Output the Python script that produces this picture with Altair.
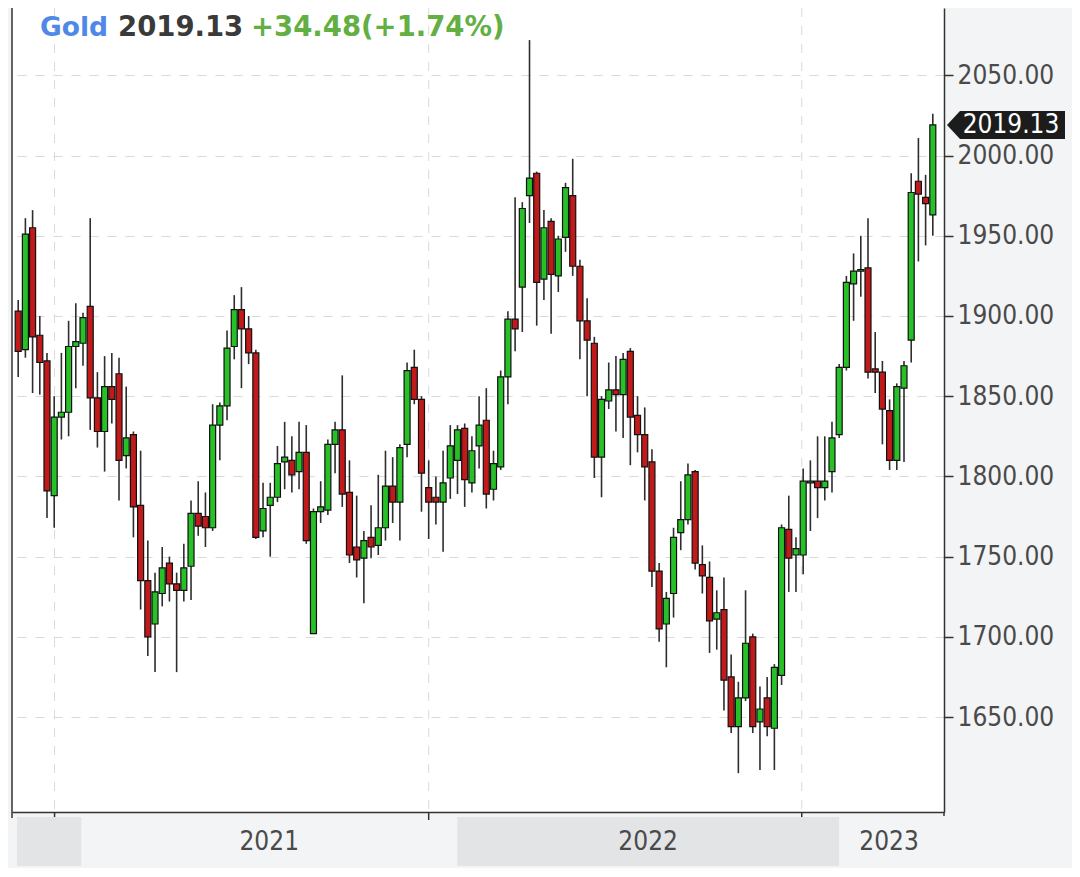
import altair as alt
import pandas as pd

# ---- weekly OHLC (index 0 = first, partially clipped candle) ----
opens = [1903, 1879, 1955, 1888, 1872, 1788, 1837, 1840, 1881, 1883,
         1906, 1849, 1828, 1856, 1864, 1813, 1826, 1782, 1735, 1708,
         1727, 1746, 1733, 1729, 1744, 1777, 1775, 1768, 1832, 1844,
         1881, 1904, 1892, 1877, 1766, 1782, 1787, 1809, 1810, 1803,
         1815, 1702, 1778, 1779, 1820, 1829, 1790, 1756, 1749, 1762,
         1757, 1768, 1794, 1784, 1820, 1868, 1848, 1793, 1787, 1784,
         1799, 1810, 1830, 1796, 1819, 1835, 1792, 1806, 1862, 1898,
         1918, 1975, 1989, 1923, 1959, 1925, 1949, 1975, 1931, 1897,
         1883, 1812, 1847, 1854, 1851, 1878, 1838, 1826, 1809, 1741,
         1708, 1727, 1765, 1773, 1803, 1745, 1737, 1711, 1717, 1675,
         1644, 1662, 1700, 1647, 1662, 1643, 1676, 1767, 1751, 1751,
         1796, 1797, 1793, 1803, 1826, 1868, 1920, 1928, 1930, 1867,
         1865, 1841, 1810, 1855, 1885, 1984, 1974, 1963]
highs = [1910, 1961, 1966, 1900, 1877, 1850, 1877, 1897, 1908, 1902,
         1961, 1865, 1875, 1877, 1874, 1856, 1828, 1816, 1760, 1740,
         1756, 1750, 1740, 1758, 1785, 1797, 1790, 1845, 1846, 1891,
         1913, 1918, 1900, 1879, 1796, 1796, 1819, 1834, 1825, 1834,
         1832, 1780, 1797, 1823, 1834, 1863, 1810, 1788, 1766, 1782,
         1801, 1816, 1812, 1820, 1871, 1879, 1850, 1810, 1800, 1816,
         1832, 1832, 1833, 1825, 1850, 1855, 1816, 1866, 1903, 1974,
         1971, 2072, 1990, 1966, 1961, 1950, 1983, 1998, 1935, 1911,
         1887, 1850, 1871, 1875, 1877, 1880, 1850, 1843, 1817, 1746,
         1728, 1768, 1797, 1808, 1804, 1757, 1747, 1729, 1737, 1689,
         1672, 1729, 1702, 1669, 1675, 1683, 1770, 1788, 1762, 1805,
         1810, 1825, 1825, 1834, 1870, 1925, 1939, 1950, 1961, 1890,
         1872, 1848, 1858, 1872, 1989, 2011, 1988, 2026]
lows = [1862, 1874, 1852, 1851, 1774, 1768, 1823, 1825, 1855, 1869,
        1829, 1818, 1803, 1833, 1785, 1805, 1762, 1717, 1688, 1678,
        1719, 1722, 1678, 1722, 1723, 1763, 1756, 1766, 1810, 1835,
        1873, 1855, 1870, 1761, 1762, 1750, 1784, 1792, 1790, 1792,
        1758, 1702, 1771, 1776, 1802, 1781, 1746, 1737, 1721, 1749,
        1751, 1760, 1771, 1760, 1812, 1845, 1778, 1761, 1770, 1753,
        1786, 1789, 1781, 1790, 1805, 1780, 1785, 1804, 1845, 1878,
        1890, 1958, 1894, 1910, 1889, 1915, 1940, 1925, 1873, 1850,
        1799, 1787, 1842, 1828, 1824, 1807, 1815, 1785, 1731, 1697,
        1681, 1712, 1754, 1770, 1742, 1727, 1690, 1692, 1654, 1640,
        1615, 1660, 1640, 1617, 1638, 1617, 1670, 1728, 1728, 1739,
        1766, 1774, 1785, 1790, 1824, 1866, 1897, 1912, 1861, 1852,
        1820, 1804, 1804, 1809, 1871, 1934, 1944, 1950]
closes = [1878, 1951, 1887, 1871, 1791, 1837, 1840, 1881, 1884, 1899,
          1849, 1828, 1856, 1848, 1810, 1824, 1781, 1735, 1700, 1728,
          1743, 1733, 1729, 1743, 1777, 1769, 1768, 1832, 1844, 1880,
          1904, 1892, 1877, 1762, 1780, 1787, 1808, 1812, 1801, 1815,
          1760, 1778, 1781, 1820, 1829, 1789, 1751, 1748, 1760, 1756,
          1768, 1794, 1784, 1818, 1866, 1848, 1802, 1784, 1784, 1796,
          1819, 1829, 1798, 1816, 1832, 1789, 1808, 1862, 1898, 1892,
          1967, 1986, 1921, 1955, 1926, 1948, 1980, 1931, 1897, 1885,
          1812, 1848, 1854, 1851, 1873, 1837, 1826, 1806, 1741, 1705,
          1724, 1762, 1773, 1801, 1746, 1738, 1710, 1715, 1673, 1644,
          1662, 1696, 1644, 1655, 1644, 1681, 1768, 1749, 1755, 1797,
          1797, 1793, 1797, 1824, 1868, 1921, 1928, 1929, 1865, 1865,
          1842, 1810, 1856, 1869, 1977, 1976, 1970, 2019.13]
week_idx = list(range(len(opens)))

# title texts
title_name = "Gold"
title_price = "2019.13"
title_change = "+34.48(+1.74%)"

# axis texts / positions (in week-index units)
y_ticks = [1650, 1700, 1750, 1800, 1850, 1900, 1950, 2000, 2050]
year_labels = ["2021", "2022", "2023"]
year_starts = [8.76, 60.96, 113.98]
x_min, x_max = -0.165, 127.86
y_min, y_max = 1590.8, 2092.0
vgrid_idx = [5.05, 57.0, 108.8]

GREEN = "#27c027"
RED = "#c01a1a"
W, H = 932, 804

df = pd.DataFrame({"i": week_idx, "open": opens, "high": highs,
                   "low": lows, "close": closes})
df["dir"] = ["up" if c >= o else "down" for o, c in zip(opens, closes)]

xs = alt.Scale(domain=[x_min, x_max], nice=False, zero=False)
ys = alt.Scale(domain=[y_min, y_max], nice=False, zero=False)

FONT = "DejaVu Sans"
LABEL_FONT = "DejaVu Sans Condensed, DejaVu Sans"
LABEL_SIZE = 26

x_axis = alt.Axis(title=None, labels=False, ticks=False, grid=False,
                  domain=True, domainColor="#333", domainWidth=1.5)
y_axis = alt.Axis(orient="right", title=None, values=y_ticks, format=".2f",
                  grid=True, gridDash=[9, 9], gridColor="#dadada", gridWidth=1,
                  domain=True, domainColor="#333", domainWidth=1.5,
                  ticks=True, tickSize=9, tickColor="#333", tickWidth=1.5,
                  labelFont=LABEL_FONT, labelFontSize=LABEL_SIZE, labelColor="#4a4a4a",
                  labelPadding=4)

# vertical dashed grid
vgrid = alt.Chart(pd.DataFrame({"i": vgrid_idx})).mark_rule(
    color="#dadada", strokeDash=[9, 9], strokeWidth=1
).encode(x=alt.X("i:Q", scale=xs, axis=x_axis))

wicks = alt.Chart(df).mark_rule(color="#2e2e2e", strokeWidth=1.6, clip=True).encode(
    x=alt.X("i:Q", scale=xs, axis=x_axis),
    y=alt.Y("low:Q", scale=ys, axis=y_axis),
    y2="high:Q",
)

bodies = alt.Chart(df).mark_bar(size=6, stroke="#111", strokeWidth=1.2, clip=True).encode(
    x=alt.X("i:Q", scale=xs, axis=x_axis),
    y=alt.Y("open:Q", scale=ys, axis=y_axis),
    y2="close:Q",
    color=alt.Color("dir:N", scale=alt.Scale(domain=["up", "down"], range=[GREEN, RED]),
                    legend=None),
)

one = pd.DataFrame({"a": [0]})
left_frame = alt.Chart(one).mark_rule(color="#333", strokeWidth=1.5).encode(
    x=alt.value(0), y=alt.value(0), y2=alt.value(H + 6))
right_foot = alt.Chart(one).mark_rule(color="#333", strokeWidth=1.5).encode(
    x=alt.value(W), y=alt.value(H), y2=alt.value(H + 4))

bottom_ticks = alt.Chart(pd.DataFrame({"i": vgrid_idx})).mark_rule(
    color="#333", strokeWidth=1.5
).encode(x=alt.X("i:Q", scale=xs, axis=x_axis), y=alt.value(H), y2=alt.value(H + 8))

# year bands and labels below the plot
band_df = pd.DataFrame({"x0": [x_min, year_starts[1]], "x1": [year_starts[0], year_starts[2]]})
bands = alt.Chart(band_df).mark_rect(color="#e3e4e6").encode(
    x=alt.X("x0:Q", scale=xs, axis=x_axis), x2="x1:Q",
    y=alt.value(H + 5), y2=alt.value(H + 54))

lab_df = pd.DataFrame({
    "label": year_labels,
    "xc": [(year_starts[0] + year_starts[1]) / 2,
           (year_starts[1] + year_starts[2]) / 2,
           (year_starts[2] + x_max) / 2],
})
year_text = alt.Chart(lab_df).mark_text(
    font=LABEL_FONT, fontSize=LABEL_SIZE, color="#4a4a4a", baseline="middle", align="center"
).encode(x=alt.X("xc:Q", scale=xs, axis=x_axis), y=alt.value(H + 30), text="label:N")

# last price tag on the right axis
tag_df = pd.DataFrame({"price": [closes[-1]], "label": [f"{closes[-1]:.2f}"]})
tag_shape = "M -1 0 L -0.78 -0.237 L 1 -0.237 L 1 0.237 L -0.78 0.237 Z"
tag = alt.Chart(tag_df).mark_point(
    shape=tag_shape, size=118 * 118, filled=True, color="#1c1c1c", opacity=1, clip=False
).encode(x=alt.value(994), y=alt.Y("price:Q", scale=ys, axis=y_axis))
tag_text = alt.Chart(tag_df).mark_text(
    font=LABEL_FONT, fontSize=LABEL_SIZE, color="white", align="center", baseline="middle"
).encode(x=alt.value(999), y=alt.Y("price:Q", scale=ys, axis=y_axis), text="label:N")

# title pieces
def title_piece(txt, xpos, color, size):
    return alt.Chart(pd.DataFrame({"t": [txt]})).mark_text(
        font=FONT, fontSize=size, fontWeight="bold", color=color,
        align="left", baseline="alphabetic"
    ).encode(x=alt.value(xpos), y=alt.value(28), text="t:N")

t1 = title_piece(title_name, 28, "#5088e8", 26.5)
t2 = title_piece(title_price, 106, "#3a3a3a", 27.5)
t3 = title_piece(title_change, 239, "#62b043", 27.5)

chart = alt.layer(
    vgrid, wicks, bodies, left_frame, right_foot, bottom_ticks, bands, year_text,
    tag, tag_text, t1, t2, t3
).properties(
    width=W, height=H,
    background="#f3f4f6",
    padding={"left": 4, "top": 0, "right": 128, "bottom": 56},
    autosize=alt.AutoSizeParams(type="none"),
).configure_view(fill="white", stroke=None)

chart.save("out.html", embed_options={"renderer": "svg", "actions": False})
